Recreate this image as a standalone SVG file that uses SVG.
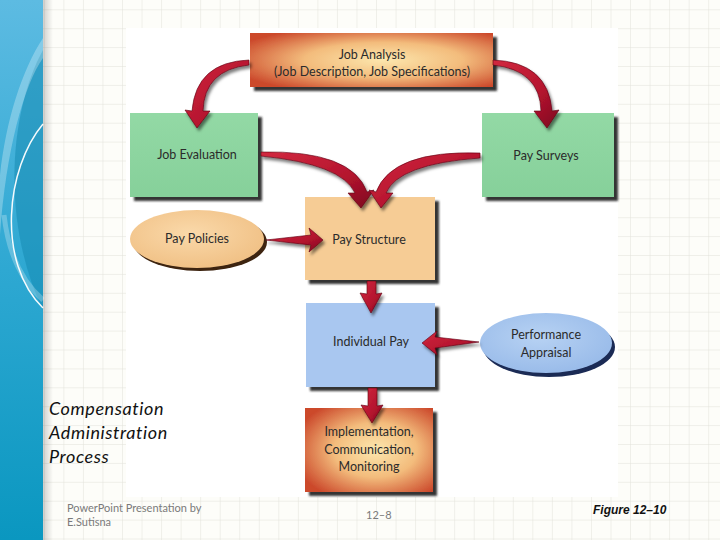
<svg xmlns="http://www.w3.org/2000/svg" width="720" height="540" viewBox="0 0 720 540">
<defs>
<style>
.lbl{font-family:Lato,"Open Sans","DejaVu Sans",sans-serif;font-size:12.5px;fill:#2b2b2b;text-anchor:middle}
.title{font-family:Lato,"Open Sans",sans-serif;font-style:italic;font-size:18px;letter-spacing:0.6px;fill:#111}
.foot{font-family:Lato,"Open Sans",sans-serif;font-size:11px;fill:#7a7a7a}
.arrow{fill:url(#arrowGrad);stroke:#5e0012;stroke-width:0.6;filter:url(#ashadow)}
.box{filter:url(#bshadow)}
</style>
<pattern id="grid" x="122" y="9.3" width="19.54" height="18.9" patternUnits="userSpaceOnUse">
<rect width="19.54" height="18.9" fill="#fdfdf9"/>
<path d="M0,0 H19.54 M0,0 V18.9" stroke="#e2e2da" stroke-width="1" fill="none"/>
</pattern>
<linearGradient id="band" x1="0" y1="0" x2="0" y2="1">
<stop offset="0" stop-color="#5dbbe2"/>
<stop offset="0.5" stop-color="#2ea8d2"/>
<stop offset="1" stop-color="#0a97c0"/>
</linearGradient>
<linearGradient id="bandShadow" x1="0" y1="0" x2="1" y2="0">
<stop offset="0" stop-color="#000" stop-opacity="0.18"/>
<stop offset="1" stop-color="#000" stop-opacity="0"/>
</linearGradient>
<radialGradient id="orange" cx="0.55" cy="0.5" r="0.65">
<stop offset="0" stop-color="#fce7ae"/>
<stop offset="0.5" stop-color="#f3bc7c"/>
<stop offset="1" stop-color="#cc4a2c"/>
</radialGradient>
<linearGradient id="green" x1="0" y1="0" x2="0" y2="1">
<stop offset="0" stop-color="#93d9a5"/>
<stop offset="1" stop-color="#86d09a"/>
</linearGradient>
<radialGradient id="peachEll" cx="0.45" cy="0.4" r="0.7">
<stop offset="0" stop-color="#fad9aa"/>
<stop offset="1" stop-color="#efbd80"/>
</radialGradient>
<radialGradient id="blueEll" cx="0.45" cy="0.4" r="0.7">
<stop offset="0" stop-color="#b7d2f3"/>
<stop offset="1" stop-color="#95b8e8"/>
</radialGradient>
<linearGradient id="arrowGrad" x1="0" y1="0" x2="1" y2="1">
<stop offset="0" stop-color="#d2293f"/>
<stop offset="0.6" stop-color="#b4142e"/>
<stop offset="1" stop-color="#7c0820"/>
</linearGradient>
<filter id="ashadow" x="-30%" y="-30%" width="160%" height="160%">
<feDropShadow dx="2" dy="3" stdDeviation="1.5" flood-color="#000" flood-opacity="0.5"/>
</filter>
<filter id="bshadow" x="-10%" y="-10%" width="125%" height="130%">
<feDropShadow dx="4" dy="4" stdDeviation="1" flood-color="#1c1c1c" flood-opacity="0.9"/>
</filter>
</defs>

<!-- background -->
<rect x="0" y="0" width="720" height="540" fill="url(#grid)"/>
<rect x="43" y="0" width="10" height="540" fill="url(#bandShadow)"/>
<rect x="0" y="0" width="43" height="540" fill="url(#band)"/>
<path d="M43,50 C10,110 0,220 43,310 Z" fill="#168bb3" opacity="0.55"/>
<path d="M43,38 C22,70 6,120 0,175 L0,235 C6,150 24,85 43,58 Z" fill="#ffffff" opacity="0.28"/>
<path d="M43,124 C6,168 -4,262 43,308" fill="none" stroke="#ffffff" stroke-width="1.5" opacity="0.95"/>
<path d="M43,300 C20,280 8,250 4,215" fill="none" stroke="#ffffff" stroke-width="5" opacity="0.25"/>

<!-- picture area -->
<rect x="126" y="28" width="492" height="469" fill="#ffffff"/>

<!-- nodes -->
<g id="job-analysis">
<rect class="box" x="250" y="33" width="243" height="54" fill="url(#orange)"/>
<text class="lbl" x="372" y="59">Job Analysis</text>
<text class="lbl" x="372" y="76">(Job Description, Job Specifications)</text>
</g>
<g id="job-evaluation">
<rect class="box" x="130" y="113" width="128" height="84" fill="url(#green)"/>
<text class="lbl" x="197" y="159">Job Evaluation</text>
</g>
<g id="pay-surveys">
<rect class="box" x="482" y="113" width="132" height="84" fill="url(#green)"/>
<text class="lbl" x="546" y="160">Pay Surveys</text>
</g>
<g id="pay-policies">
<ellipse cx="200" cy="242" rx="67" ry="29" fill="#3d2410"/>
<ellipse cx="197" cy="239" rx="67" ry="29" fill="url(#peachEll)"/>
<text class="lbl" x="197" y="243">Pay Policies</text>
</g>
<g id="pay-structure">
<rect class="box" x="305" y="197" width="130" height="83" fill="#f6cc95"/>
<text class="lbl" x="369" y="244">Pay Structure</text>
</g>
<g id="individual-pay">
<rect class="box" x="306" y="303" width="129" height="84" fill="#a9c7f0"/>
<text class="lbl" x="371" y="346">Individual Pay</text>
</g>
<g id="performance-appraisal">
<ellipse cx="549" cy="347" rx="66" ry="30" fill="#1b2b55"/>
<ellipse cx="546" cy="343" rx="66" ry="30" fill="url(#blueEll)"/>
<text class="lbl" x="546" y="339">Performance</text>
<text class="lbl" x="546" y="357">Appraisal</text>
</g>
<g id="implementation">
<rect class="box" x="305" y="408" width="128" height="84" fill="url(#orange)"/>
<text class="lbl" x="369" y="436">Implementation,</text>
<text class="lbl" x="369" y="454">Communication,</text>
<text class="lbl" x="369" y="471">Monitoring</text>
</g>

<!-- connectors -->
<g id="connectors">
<path class="arrow" d="M249,60 Q196,62 192,111 L185,110 L197,128 L210,111 L203,111 Q204,70 249,65 Z"/>
<path class="arrow" d="M493,60 Q548,62 552,111 L559,110 L547,128 L534,111 L541,111 Q540,70 493,65 Z"/>
<path class="arrow" d="M261,152 Q352,150 367,192 L374,190 L361,208 L348,193 L355,193 Q342,164 261,156 Z"/>
<path class="arrow" d="M480,153 Q392,150 376,192 L369,190 L381,208 L393,193 L386,193 Q398,164 480,158 Z"/>
<path class="arrow" d="M266,240 L311,235 L309,228 L323,240 L309,252 L311,245 Z"/>
<path class="arrow" d="M367,281 L376,281 L376,294 L382,293 L371,313 L360,293 L367,294 Z"/>
<path class="arrow" d="M479,342 L435,337 L437,331 L422,343 L437,355 L435,348 Z"/>
<path class="arrow" d="M368,388 L377,388 L377,406 L383,405 L372,423 L361,405 L368,406 Z"/>
</g>

<!-- slide texts -->
<text class="title" x="49" y="415">Compensation</text>
<text class="title" x="49" y="439">Administration</text>
<text class="title" x="49" y="463">Process</text>
<text class="foot" x="67" y="512">PowerPoint Presentation by</text>
<text class="foot" x="67" y="526">E.Sutisna</text>
<text class="foot" x="366" y="519">12–8</text>
<text x="593" y="514" font-family="'Liberation Sans',Arial,sans-serif" font-size="12" font-weight="bold" font-style="italic" fill="#111">Figure 12–10</text>
</svg>
